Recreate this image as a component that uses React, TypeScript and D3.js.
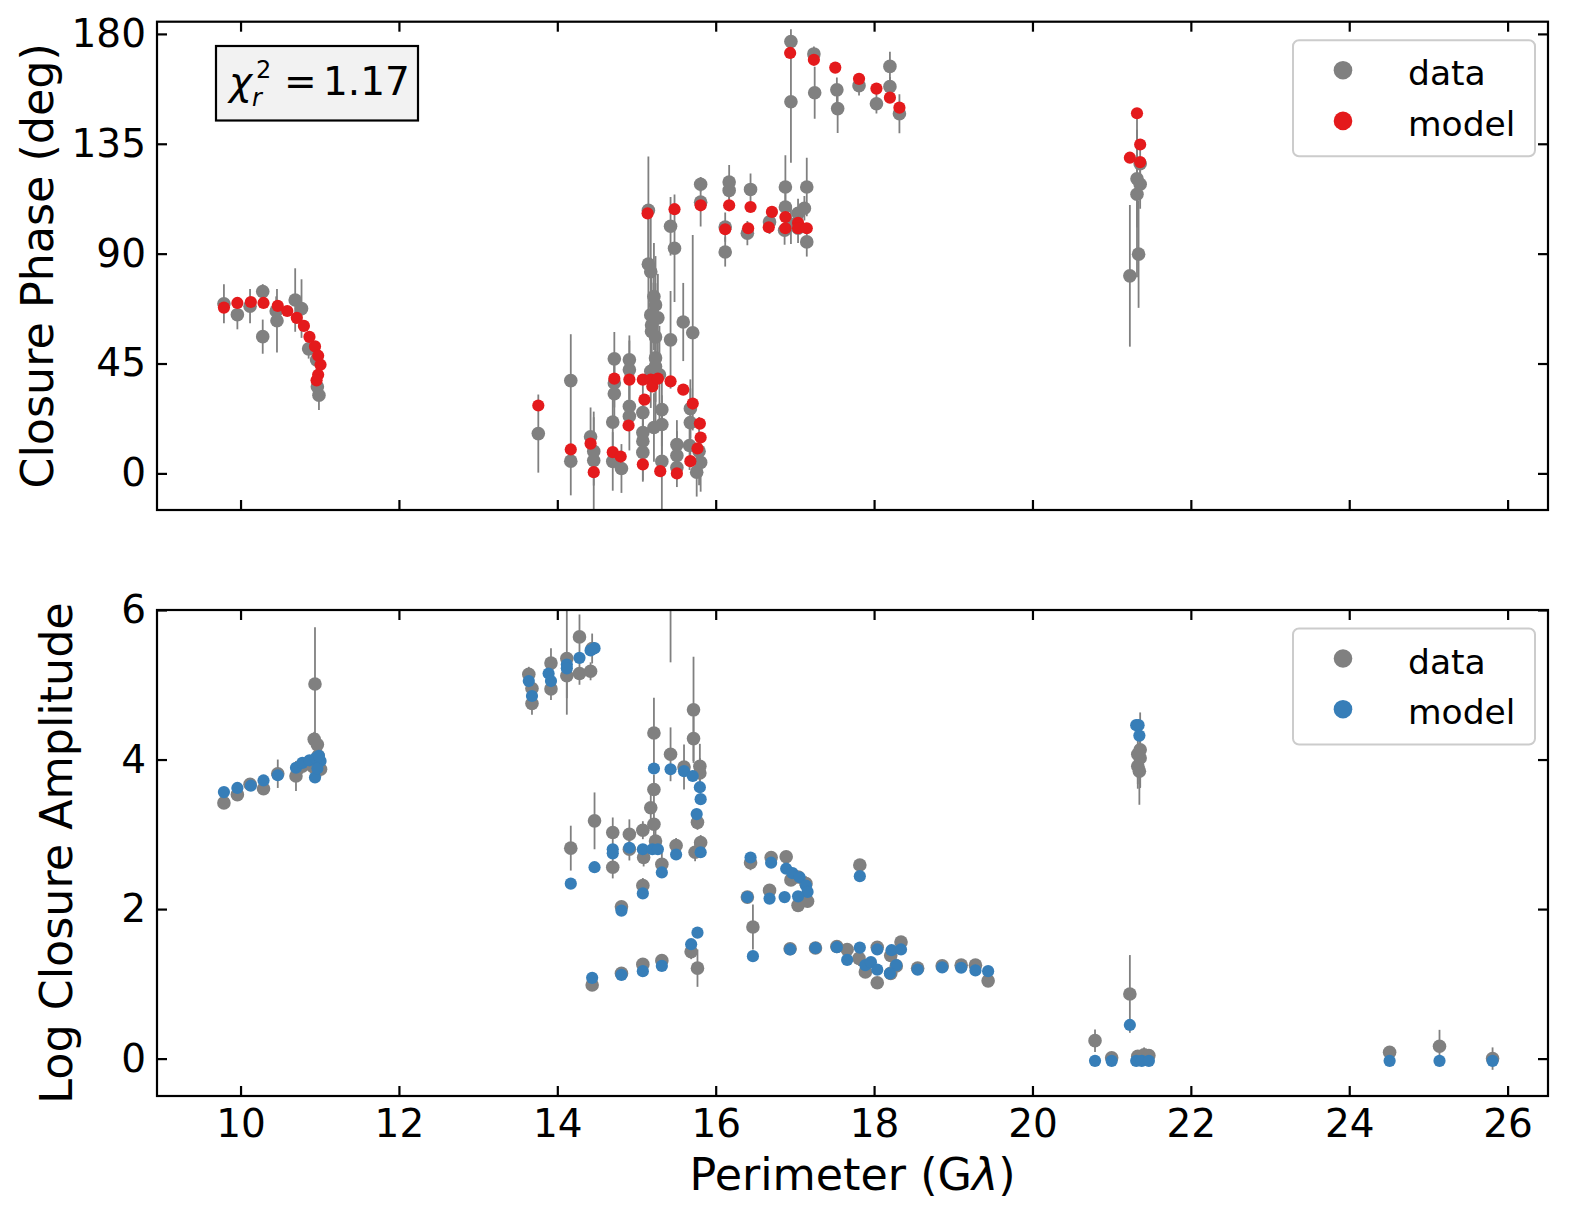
import React, {useEffect, useRef} from 'react';
import * as d3 from 'd3';

// tick values
const xTicks = [10, 12, 14, 16, 18, 20, 22, 24, 26];
const phaseTicks = [0, 45, 90, 135, 180];
const ampTicks = [0, 2, 4, 6];

// closure phase - data (deg)
const phaseDataX = [
    9.79, 9.96, 10.12, 10.28, 10.28, 10.46, 10.45, 10.69, 10.77, 10.86, 10.96, 10.97, 10.99,
    13.76, 14.17, 14.17, 14.42, 14.46, 14.46, 14.72, 14.72, 14.72, 14.70, 14.70, 14.81, 14.91, 14.91, 14.91, 14.91,
    15.08, 15.08, 15.08, 15.08, 15.15, 15.15, 15.18, 15.22, 15.24, 15.18, 15.27, 15.19, 15.19, 15.24, 15.24, 15.24, 15.29, 15.18,
    15.32, 15.32, 15.22, 15.43, 15.48, 15.43, 15.32, 15.51, 15.51, 15.51, 15.59, 15.71, 15.68, 15.68, 15.67, 15.79, 15.81, 15.76, 15.81, 15.81,
    16.17, 16.17, 16.12, 16.12, 16.44, 16.40, 16.68, 16.88, 16.88, 16.87, 16.95, 17.04, 17.04, 17.12, 17.15, 17.15,
    16.95, 16.95, 17.24, 17.25, 17.53, 17.54, 17.81, 18.03, 18.20, 18.20, 18.32,
    21.36, 21.32, 21.36, 21.32, 21.34, 21.23
];
const phaseDataY = [
    69.5, 65, 68.5, 74.5, 56, 62.5, 66.5, 71, 67.5, 51, 46.5, 35.5, 32,
    16.3, 38, 5, 15, 9, 5.3, 46.9, 37, 32.6, 21, 4.9, 2, 46.5, 42.4, 27.5, 23.4,
    24.9, 16.7, 13.2, 8.6, 107.8, 85.7, 82.6, 72.4, 69, 64.9, 63.7, 60.8, 58.1, 55.9, 47.3, 43.8, 40.4, 41.8,
    26.1, 20, 18.8, 101.2, 92.2, 54.7, 4.9, 11.8, 7.3, 2.4, 62, 57.6, 26.5, 20.8, 11.4, 9.1, 4.5, 0.5, 118.4, 111.1,
    119.3, 115.9, 100.9, 90.7, 116.3, 98.4, 103, 117.3, 109.1, 99.6, 102, 106.5, 100.4, 108.6, 117.3, 94.8,
    176.9, 152.2, 171.8, 155.9, 157.1, 149.4, 158.8, 151.4, 166.7, 158.4, 147.3,
    126.8, 120.7, 118.4, 114.3, 89.8, 80.9
];
const phaseDataErr = [
    8, 6, 7, 3, 7, 13, 6, 13, 12, 4, 5, 5, 6,
    16, 19, 14, 12, 14, 20, 11, 10, 12, 14, 12, 10, 10, 12, 10, 14,
    12, 14, 16, 12, 22, 20, 25, 22, 20, 22, 18, 25, 20, 22, 18, 25, 20, 15,
    15, 12, 14, 12, 22, 20, 25, 10, 10, 8, 16, 40, 12, 14, 10, 14, 12, 10, 3, 10,
    7, 5, 6, 6, 6.5, 5, 5, 13, 10, 6, 8, 6, 6, 5, 12, 6,
    5, 25, 3, 10.6, 5, 10, 4, 4, 6, 4, 8,
    8, 20, 10, 34, 22, 29
];

// closure phase - model (deg)
const phaseModelX = [
    9.79, 9.96, 10.13, 10.29, 10.47, 10.59, 10.71, 10.80, 10.87, 10.94, 10.98, 11.01, 10.98, 10.96,
    13.76, 14.17, 14.42, 14.46, 14.72, 14.70, 14.80, 14.91, 14.90, 15.08, 15.10, 15.08, 15.18, 15.20, 15.27, 15.30, 15.43, 15.51, 15.59, 15.71, 15.68, 15.80, 15.81, 15.77,
    15.14, 15.48, 15.81,
    16.17, 16.12, 16.44, 16.41, 16.71, 16.67, 16.88, 16.88, 17.04, 17.04, 17.15,
    16.94, 17.24, 17.51, 17.81, 18.03, 18.20, 18.32,
    21.32, 21.36, 21.23, 21.36
];
const phaseModelY = [
    67.9, 69.8, 70.2, 69.8, 68.6, 66.5, 63.7, 60.4, 55.9, 52.0, 48.2, 44.5, 40.4, 38.1,
    27.8, 9.8, 12.2, 0.5, 38.8, 8.7, 6.9, 38.4, 19.6, 38.4, 30.2, 3.7, 38.4, 35.6, 38.8, 0.9, 37.7, 0, 34.3, 28.6, 5, 20.4, 14.7, 10.2,
    106.5, 108.2, 109.8,
    109.8, 100, 109.1, 100.4, 107.1, 100.8, 105, 100.4, 102.6, 100.4, 100.4,
    172.2, 169.4, 166.2, 161.6, 157.6, 153.9, 149.8,
    147.5, 134.7, 129.3, 127.5
];

// log closure amplitude - data
const ampDataX = [
    9.79, 9.96, 10.12, 10.29, 10.47, 10.70, 10.78, 10.94, 10.93, 10.97, 11.01, 10.98, 10.92,
    13.64, 13.68, 13.68, 13.92, 13.92, 14.12, 14.12, 14.28, 14.28, 14.42, 14.44, 15.43,
    15.22, 15.43, 15.60, 15.72, 15.72, 15.80, 15.80, 15.22, 15.18, 15.22, 15.08, 15.24, 15.09, 15.32, 15.50, 15.77, 15.81, 15.74, 15.08,
    14.47, 14.17, 14.70, 14.70, 14.91, 14.91, 14.81, 14.44, 14.81, 15.08, 15.32, 15.69, 15.77,
    16.44, 16.40, 16.47, 16.70, 16.89, 16.95, 17.04, 17.04, 17.16, 17.14, 16.68, 17.82,
    16.94, 17.26, 17.53, 17.66, 17.81, 17.89, 18.04, 18.04, 18.21, 18.34, 18.21, 18.28, 18.55, 18.86, 19.10, 19.28, 19.44,
    21.36, 21.33, 21.36, 21.33, 21.35, 20.79, 21.00, 21.23, 21.33, 21.41, 21.47, 24.51, 25.14, 25.81
];
const ampDataY = [
    3.42, 3.53, 3.67, 3.61, 3.81, 3.78, 3.91, 5.01, 4.27, 4.20, 3.87, 4.05, 3.90,
    5.14, 4.95, 4.75, 5.29, 4.945, 5.35, 5.12, 5.64, 5.15, 5.18, 5.485, 6.35,
    4.355, 4.07, 3.90, 4.665, 4.28, 3.91, 3.82, 3.60, 3.355, 3.135, 3.055, 2.91, 2.69, 2.60, 2.85, 3.16, 2.89, 2.76, 2.315,
    3.18, 2.815, 3.025, 2.56, 3.00, 2.80, 2.03, 0.985, 1.14, 1.26, 1.31, 1.43, 1.21,
    2.62, 2.16, 1.76, 2.69, 2.70, 2.39, 2.43, 2.05, 2.105, 2.34, 2.25, 2.59,
    1.47, 1.48, 1.50, 1.46, 1.34, 1.16, 1.015, 1.49, 1.38, 1.56, 1.14, 1.24, 1.21, 1.24, 1.25, 1.25, 1.04,
    4.13, 4.07, 4.02, 3.91, 3.845, 0.24, 0.01, 0.865, 0.03, 0.05, 0.04, 0.085, 0.165, 0.0
];
const ampDataErr = [
    0.05, 0.05, 0.05, 0.06, 0.19, 0.2, 0.1, 0.76, 0.1, 0.15, 0.1, 0.1, 0.1,
    0.1, 0.1, 0.15, 0.2, 0.15, 0.75, 0.3, 0.3, 0.15, 0.12, 0.2, 1.05,
    0.47, 0.36, 0.3, 0.71, 0.3, 0.3, 0.2, 0.2, 0.2, 0.15, 0.12, 0.15, 0.12, 0.15, 0.1, 0.1, 0.1, 0.12, 0.1,
    0.38, 0.3, 0.2, 0.15, 0.2, 0.15, 0.08, 0.08, 0.06, 0.08, 0.08, 0.1, 0.25,
    0.1, 0.08, 0.3, 0.08, 0.08, 0.08, 0.08, 0.08, 0.08, 0.1, 0.08, 0.08,
    0.05, 0.05, 0.05, 0.08, 0.1, 0.06, 0.06, 0.08, 0.08, 0.08, 0.06, 0.1, 0.05, 0.05, 0.05, 0.05, 0.06,
    0.5, 0.4, 0.4, 0.3, 0.45, 0.15, 0.08, 0.52, 0.08, 0.1, 0.08, 0.08, 0.22, 0.15
];

// log closure amplitude - model
const ampModelX = [
    9.79, 9.96, 10.13, 10.29, 10.47, 10.70, 10.78, 10.87, 10.95, 11.01, 10.94, 10.97, 10.99,
    13.64, 13.68, 13.89, 13.92, 14.12, 14.12, 14.28, 14.42, 14.47,
    15.22, 15.43, 15.60, 15.71, 15.80, 15.81, 15.76, 15.81, 15.50, 15.32, 15.08, 15.20, 15.27, 14.91, 14.70, 14.70, 14.47, 14.17, 15.08, 14.81,
    14.44, 14.81, 15.08, 15.32, 15.69, 15.77,
    16.44, 16.40, 16.47, 16.70, 16.89, 16.97, 17.06, 17.14, 17.16, 16.68, 16.87, 17.04, 17.82,
    16.94, 17.26, 17.53, 17.66, 17.82, 17.89, 17.96, 18.04, 18.04, 18.22, 18.34, 18.28, 18.20, 18.55, 18.86, 19.10, 19.28, 19.44,
    21.31, 21.34, 21.35, 20.79, 21.00, 21.23, 21.31, 21.38, 21.47, 24.51, 25.14, 25.81
];
const ampModelY = [
    3.565, 3.62, 3.65, 3.72, 3.79, 3.89, 3.955, 3.99, 4.02, 3.98, 3.76, 3.88, 4.05,
    5.05, 4.85, 5.15, 5.05, 5.27, 5.22, 5.36, 5.46, 5.49,
    3.88, 3.87, 3.845, 3.78, 3.63, 3.47, 3.27, 2.76, 2.73, 2.49, 2.80, 2.80, 2.80, 2.82, 2.80, 2.745, 2.56, 2.34, 2.21, 1.98,
    1.08, 1.12, 1.17, 1.24, 1.53, 1.685,
    2.69, 2.16, 1.37, 2.62, 2.54, 2.48, 2.425, 2.315, 2.23, 2.14, 2.16, 2.17, 2.44,
    1.46, 1.48, 1.49, 1.32, 1.485, 1.25, 1.29, 1.46, 1.19, 1.45, 1.46, 1.25, 1.14, 1.19, 1.22, 1.215, 1.18, 1.17,
    4.46, 4.46, 4.32, -0.03, -0.03, 0.45, -0.03, -0.03, -0.03, -0.03, -0.03, -0.03
];

const WIDTH = 1573;
const HEIGHT = 1222;
const FONT = "'DejaVu Sans', sans-serif";
const margin = {left: 157, right: 25};
const GRAY = '#808080';

function drawPanel(svg: any, xScale: any, opts: any) {
    const {id, top, bottom, domain, ticks, dataX, dataY, dataErr, modelX, modelY, modelColor, showXLabels, yLabel, yLabelX} = opts;
    const left = margin.left, right = WIDTH - margin.right;

    const yScale = d3.scaleLinear().domain(domain).range([bottom, top]);

    svg.append('clipPath').attr('id', 'clip-' + id)
        .append('rect')
        .attr('x', left).attr('y', top)
        .attr('width', right - left).attr('height', bottom - top);

    const plot = svg.append('g').attr('clip-path', `url(#clip-${id})`);
    const idx = d3.range(dataX.length);

    //error bars
    plot.selectAll('line.err').data(idx).join('line')
        .attr('class', 'err')
        .attr('x1', (i: number) => xScale(dataX[i]))
        .attr('x2', (i: number) => xScale(dataX[i]))
        .attr('y1', (i: number) => yScale(dataY[i] - dataErr[i]))
        .attr('y2', (i: number) => yScale(dataY[i] + dataErr[i]))
        .attr('stroke', GRAY)
        .attr('stroke-width', 1.8);

    //data points
    plot.selectAll('circle.data').data(idx).join('circle')
        .attr('class', 'data')
        .attr('cx', (i: number) => xScale(dataX[i]))
        .attr('cy', (i: number) => yScale(dataY[i]))
        .attr('r', 6.8)
        .attr('fill', GRAY);

    //model points
    plot.selectAll('circle.model').data(d3.range(modelX.length)).join('circle')
        .attr('class', 'model')
        .attr('cx', (i: number) => xScale(modelX[i]))
        .attr('cy', (i: number) => yScale(modelY[i]))
        .attr('r', 6.1)
        .attr('fill', modelColor);

    //axes, ticks pointing inwards
    const tickLen = 10;
    const styleAxis = (g: any) => {
        g.select('.domain').remove();
        g.selectAll('.tick line').attr('stroke', 'black').attr('stroke-width', 2.2);
        g.attr('font-size', 39).attr('font-family', FONT);
        g.selectAll('.tick text').attr('fill', 'black');
    };

    svg.append('g')
        .attr('transform', `translate(${left},0)`)
        .call(d3.axisLeft(yScale).tickValues(ticks).tickSize(-tickLen).tickPadding(11).tickFormat(d3.format('d')))
        .call(styleAxis);

    svg.append('g')
        .attr('transform', `translate(${right},0)`)
        .call(d3.axisRight(yScale).tickValues(ticks).tickSize(-tickLen).tickFormat(() => ''))
        .call(styleAxis);

    svg.append('g')
        .attr('transform', `translate(0,${bottom})`)
        .call(d3.axisBottom(xScale).tickValues(xTicks).tickSize(-tickLen).tickPadding(13)
            .tickFormat(showXLabels ? d3.format('d') : () => ''))
        .call(styleAxis);

    svg.append('g')
        .attr('transform', `translate(0,${top})`)
        .call(d3.axisTop(xScale).tickValues(xTicks).tickSize(-tickLen).tickFormat(() => ''))
        .call(styleAxis);

    //frame
    svg.append('rect')
        .attr('x', left).attr('y', top)
        .attr('width', right - left).attr('height', bottom - top)
        .attr('fill', 'none')
        .attr('stroke', 'black')
        .attr('stroke-width', 2.2);

    //y label
    svg.append('text')
        .attr('transform', `translate(${yLabelX},${(top + bottom) / 2}) rotate(-90)`)
        .attr('text-anchor', 'middle')
        .attr('font-family', FONT)
        .attr('font-size', 44.4)
        .text(yLabel);

    //legend
    const lg = svg.append('g').attr('transform', `translate(1293,${top + 18.5})`);
    lg.append('rect')
        .attr('width', 242).attr('height', 116)
        .attr('rx', 6).attr('ry', 6)
        .attr('fill', 'white').attr('fill-opacity', 0.8)
        .attr('stroke', '#cccccc').attr('stroke-width', 2);
    const entries = [{label: 'data', color: GRAY}, {label: 'model', color: modelColor}];
    entries.forEach((e, k) => {
        lg.append('circle')
            .attr('cx', 50).attr('cy', 30 + k * 50.7)
            .attr('r', 9.3)
            .attr('fill', e.color);
        lg.append('text')
            .attr('x', 115).attr('y', 45 + k * 50.7)
            .attr('font-family', FONT)
            .attr('font-size', 34.5)
            .text(e.label);
    });
}

export default function App() {
    const ref = useRef<SVGSVGElement>(null);

    useEffect(() => {
        const svg = d3.select(ref.current);
        svg.selectAll('*').remove();

        const xScale = d3.scaleLinear()
            .domain([8.945, 26.51])
            .range([margin.left, WIDTH - margin.right]);

        drawPanel(svg, xScale, {
            id: 'phase', top: 21.7, bottom: 510, domain: [-15, 185], ticks: phaseTicks,
            dataX: phaseDataX, dataY: phaseDataY, dataErr: phaseDataErr,
            modelX: phaseModelX, modelY: phaseModelY, modelColor: '#e41a1c',
            showXLabels: false, yLabel: 'Closure Phase (deg)', yLabelX: 53
        });

        drawPanel(svg, xScale, {
            id: 'amp', top: 610, bottom: 1096, domain: [-0.5, 6], ticks: ampTicks,
            dataX: ampDataX, dataY: ampDataY, dataErr: ampDataErr,
            modelX: ampModelX, modelY: ampModelY, modelColor: '#377eb8',
            showXLabels: true, yLabel: 'Log Closure Amplitude', yLabelX: 72
        });

        //x label
        const xl = svg.append('text')
            .attr('x', (margin.left + WIDTH - margin.right) / 2)
            .attr('y', 1190)
            .attr('text-anchor', 'middle')
            .attr('font-family', FONT)
            .attr('font-size', 44.4);
        xl.append('tspan').text('Perimeter (G');
        xl.append('tspan').attr('font-style', 'italic').text('λ');
        xl.append('tspan').text(')');

        //reduced chi-square box
        const box = svg.append('g');
        box.append('rect')
            .attr('x', 216).attr('y', 46)
            .attr('width', 202).attr('height', 74.5)
            .attr('fill', '#f2f2f2')
            .attr('stroke', 'black')
            .attr('stroke-width', 2.2);
        box.append('text')
            .attr('x', 229).attr('y', 95)
            .attr('font-family', FONT).attr('font-size', 39).attr('font-style', 'italic')
            .text('χ');
        box.append('text')
            .attr('x', 256).attr('y', 78)
            .attr('font-family', FONT).attr('font-size', 24)
            .text('2');
        box.append('text')
            .attr('x', 252).attr('y', 106)
            .attr('font-family', FONT).attr('font-size', 24).attr('font-style', 'italic')
            .text('r');
        box.append('text')
            .attr('x', 284).attr('y', 95)
            .attr('font-family', FONT).attr('font-size', 39)
            .text('=');
        box.append('text')
            .attr('x', 323).attr('y', 95)
            .attr('font-family', FONT).attr('font-size', 39)
            .text('1.17');
    }, []);

    return (
        <svg ref={ref} width={WIDTH} height={HEIGHT}
             style={{position: 'absolute', left: 0, top: 0, background: 'white'}}/>
    );
}
